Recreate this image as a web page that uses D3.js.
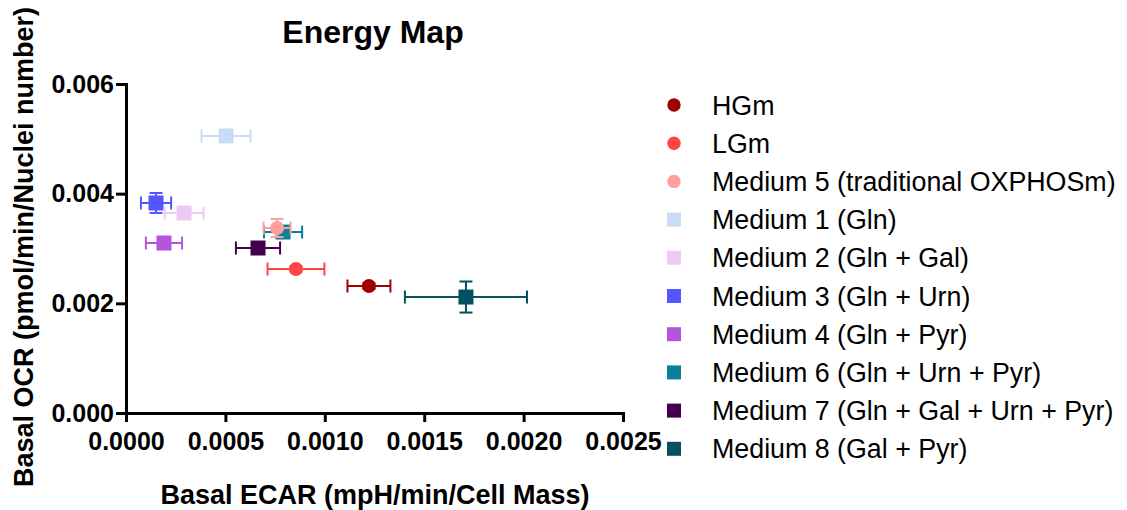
<!DOCTYPE html>
<html lang="en">
<head>
	<meta charset="utf-8">
	<script src="https://cdn.jsdelivr.net/npm/d3@7"></script>
	<title>Energy Map</title>
	<style>
		body { margin: 0; background: #fff; }
		svg text { font-family: "Liberation Sans", Arial, Helvetica, sans-serif; fill: #000; }
		.axis text { font-size: 25px; font-weight: bold; }
		.axis path, .axis line { stroke: #000; stroke-width: 3; }
	</style>
</head>
<body>
	<svg width="1127" height="510"></svg>
	<script>
	// groups in legend order
	var groups = ["HGm", "LGm", "Medium 5 (traditional OXPHOSm)", "Medium 1 (Gln)", "Medium 2 (Gln + Gal)",
		"Medium 3 (Gln + Urn)", "Medium 4 (Gln + Pyr)", "Medium 6 (Gln + Urn + Pyr)",
		"Medium 7 (Gln + Gal + Urn + Pyr)", "Medium 8 (Gal + Pyr)"];
	var shapes = ["circle", "circle", "circle", "square", "square", "square", "square", "square", "square", "square"];
	var colors = ["#a00000", "#ff4444", "#ffa0a0", "#c8ddf5", "#ebcbf5", "#5555ff", "#b655dc", "#0a8096", "#44004f", "#03505f"];

	// basal ECAR (x) and basal OCR (y), mean and error
	var ecar    = [0.001222, 0.000855, 0.000760, 0.000503, 0.000292, 0.000151, 0.000191, 0.000790, 0.000664, 0.001710];
	var ecarErr = [0.000108, 0.000143, 0.000068, 0.000123, 0.000098, 0.000076, 0.000091, 0.000096, 0.000111, 0.000307];
	var ocr     = [0.002316, 0.002626, 0.003374, 0.005052, 0.003647, 0.003830, 0.003100, 0.003300, 0.003009, 0.002115];
	var ocrErr  = [0.000050, 0.000050, 0.000164, 0.000060, 0.000060, 0.000182, 0.000060, 0.000060, 0.000080, 0.000283];

	var xTicks = [0, 0.0005, 0.0010, 0.0015, 0.0020, 0.0025];
	var yTicks = [0, 0.002, 0.004, 0.006];

	var svg = d3.select("svg");

	var x = d3.scaleLinear().domain([0, 0.0025]).range([126, 623]);
	var y = d3.scaleLinear().domain([0, 0.006]).range([413, 84]);

	// axes
	svg.append("g")
		.attr("class", "axis")
		.attr("transform", "translate(0," + y(0) + ")")
		.call(d3.axisBottom(x).tickValues(xTicks).tickFormat(d3.format(".4f")).tickSizeOuter(0).tickSizeInner(9).tickPadding(10));
	svg.append("g")
		.attr("class", "axis")
		.attr("transform", "translate(" + x(0) + ",0)")
		.call(d3.axisLeft(y).tickValues(yTicks).tickFormat(d3.format(".3f")).tickSizeOuter(0).tickSizeInner(10).tickPadding(2));
	svg.selectAll(".axis path").attr("stroke-linecap", "square");

	// titles
	svg.append("text").attr("x", 373).attr("y", 43).attr("text-anchor", "middle")
		.style("font-size", "32px").style("font-weight", "bold").text("Energy Map");
	svg.append("text").attr("x", 375).attr("y", 504).attr("text-anchor", "middle")
		.style("font-size", "27px").style("font-weight", "bold").text("Basal ECAR (mpH/min/Cell Mass)");
	svg.append("text").attr("transform", "translate(33,247) rotate(-90)").attr("text-anchor", "middle")
		.style("font-size", "27px").style("font-weight", "bold").text("Basal OCR (pmol/min/Nuclei number)");

	// points, drawn last group first so circles sit on top
	var idx = d3.range(groups.length).reverse();
	var cap = 6.5;
	var pts = svg.append("g").selectAll("g").data(idx).enter().append("g")
		.attr("stroke", function(i){ return colors[i]; })
		.attr("fill", function(i){ return colors[i]; });

	pts.each(function(i){
		var g = d3.select(this);
		var cx = x(ecar[i]), cy = y(ocr[i]);
		var x0 = x(ecar[i] - ecarErr[i]), x1 = x(ecar[i] + ecarErr[i]);
		var y0 = y(ocr[i] - ocrErr[i]), y1 = y(ocr[i] + ocrErr[i]);
		var segs = [
			[x0, cy, x1, cy], [x0, cy - cap, x0, cy + cap], [x1, cy - cap, x1, cy + cap],
			[cx, y0, cx, y1], [cx - cap, y0, cx + cap, y0], [cx - cap, y1, cx + cap, y1]
		];
		g.selectAll("line").data(segs).enter().append("line")
			.attr("x1", function(s){ return s[0]; }).attr("y1", function(s){ return s[1]; })
			.attr("x2", function(s){ return s[2]; }).attr("y2", function(s){ return s[3]; })
			.attr("stroke-width", 2);
		if (shapes[i] === "circle") {
			g.append("circle").attr("cx", cx).attr("cy", cy).attr("r", 7).attr("stroke", "none");
		} else {
			g.append("rect").attr("x", cx - 7.5).attr("y", cy - 7.5).attr("width", 15).attr("height", 15).attr("stroke", "none");
		}
	});

	// legend
	var leg = svg.append("g").selectAll("g").data(groups).enter().append("g")
		.attr("transform", function(d, i){ return "translate(674," + (105 + i * 38.2) + ")"; });
	leg.each(function(d, i){
		var g = d3.select(this);
		if (shapes[i] === "circle") g.append("circle").attr("r", 6.7).attr("fill", colors[i]);
		else g.append("rect").attr("x", -7).attr("y", -7).attr("width", 14).attr("height", 14).attr("fill", colors[i]);
	});
	leg.append("text").attr("x", 38).attr("y", 9.5).style("font-size", "26.8px").text(function(d){ return d; });
	</script>
</body>
</html>
